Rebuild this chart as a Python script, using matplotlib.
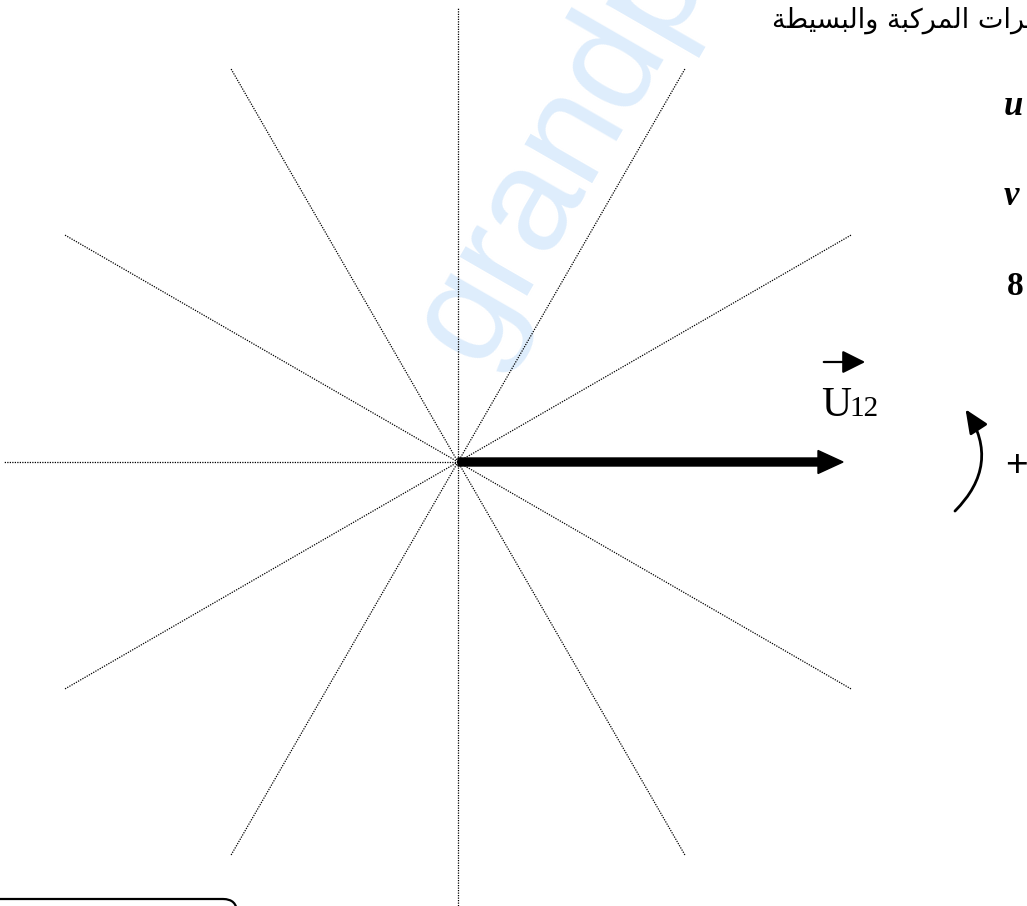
import numpy as np
import matplotlib
matplotlib.use('Agg')
import matplotlib.pyplot as plt
from matplotlib.patches import FancyArrowPatch, FancyBboxPatch

# reference directions of the phasor grid (degrees)
grid_angles = [30, 60, 90, 120, 150, 180, 210, 240, 270, 300, 330]

# phasors drawn on the grid
phasor_names = ['U']
phasor_subs = ['12']
phasor_mags = [385]
phasor_angles = [0]

title_text = 'التوترات المركبة والبسيطة'
side_labels = ['u', 'v', '8']

# presentation forms: isolated, final, initial, medial
FORMS = {
    'ا': ('\ufe8d', '\ufe8e', None, None),
    'ل': ('\ufedd', '\ufede', '\ufedf', '\ufee0'),
    'ت': ('\ufe95', '\ufe96', '\ufe97', '\ufe98'),
    'و': ('\ufeed', '\ufeee', None, None),
    'ر': ('\ufead', '\ufeae', None, None),
    'م': ('\ufee1', '\ufee2', '\ufee3', '\ufee4'),
    'ك': ('\ufed9', '\ufeda', '\ufedb', '\ufedc'),
    'ب': ('\ufe8f', '\ufe90', '\ufe91', '\ufe92'),
    'ة': ('\ufe93', '\ufe94', None, None),
    'س': ('\ufeb1', '\ufeb2', '\ufeb3', '\ufeb4'),
    'ي': ('\ufef1', '\ufef2', '\ufef3', '\ufef4'),
    'ط': ('\ufec1', '\ufec2', '\ufec3', '\ufec4'),
}


def shape_arabic(text):
    # tiny reshaper, matplotlib has no bidi / joining support
    out = []
    for i, ch in enumerate(text):
        if ch not in FORMS:
            out.append(ch)
            continue
        prev = text[i - 1] if i > 0 else ''
        nxt = text[i + 1] if i + 1 < len(text) else ''
        join_prev = prev in FORMS and FORMS[prev][2] is not None
        join_next = nxt in FORMS and FORMS[ch][2] is not None
        iso, fin, ini, med = FORMS[ch]
        if join_prev and join_next:
            out.append(med)
        elif join_prev:
            out.append(fin)
        elif join_next:
            out.append(ini)
        else:
            out.append(iso)
    return ''.join(out)[::-1]


W, H = 1027, 906
fig = plt.figure(figsize=(W / 100, H / 100), dpi=100)
ax = fig.add_axes([0, 0, 1, 1])
ax.set_xlim(0, W)
ax.set_ylim(H, 0)
ax.axis('off')

cx, cy = 458, 462
radius = 455

# watermark
ax.text(480, 368, 'grandp', rotation=60, rotation_mode='anchor',
        ha='left', va='baseline', fontsize=105, color='#deedfc',
        family='Liberation Sans', zorder=0)

# dotted grid
for a in grid_angles:
    t = np.deg2rad(a)
    ax.plot([cx, cx + radius * np.cos(t)], [cy, cy - radius * np.sin(t)],
            color='black', lw=0.9, linestyle=(0, (1, 1)), zorder=1)

# phasors
for name, sub, mag, ang in zip(phasor_names, phasor_subs, phasor_mags, phasor_angles):
    t = np.deg2rad(ang)
    ax.arrow(cx, cy, mag * np.cos(t), -mag * np.sin(t), width=8,
             head_width=23, head_length=25, length_includes_head=True,
             color='black', zorder=3)
    lx, ly = cx + mag * np.cos(t) - 22, cy - mag * np.sin(t) - 46
    ax.text(lx, ly, name, ha='left', va='baseline', fontsize=30,
            family='Liberation Serif')
    ax.text(lx + 28, ly, sub, ha='left', va='baseline', fontsize=21,
            family='Liberation Serif')
    ax.add_patch(FancyArrowPatch((lx, ly - 54), (lx + 47, ly - 54),
                                 arrowstyle='-|>,head_length=0.7,head_width=0.35',
                                 mutation_scale=20, lw=1.6, color='black'))

# direction of rotation
ax.add_patch(FancyArrowPatch((953, 513), (964, 407),
                             connectionstyle='arc3,rad=0.42',
                             arrowstyle='-|>,head_length=0.8,head_width=0.35',
                             mutation_scale=18, lw=2, color='black'))
ax.text(1005, 466, '+', ha='left', va='center', fontsize=28,
        family='Liberation Sans')

# header text (cut at the right edge) and cut-off labels on the right
ax.text(772, 28, shape_arabic(title_text), ha='left', va='baseline',
        fontsize=19.5, family='DejaVu Sans')
for lab, x, y, fs in zip(side_labels, [1004, 1004, 1007], [115, 205, 295], [25, 25, 24]):
    style = 'normal' if lab.isdigit() else 'italic'
    ax.text(x, y, lab, ha='left', va='baseline', fontsize=fs,
            fontweight='bold', fontstyle=style, family='Liberation Serif')

# box at the bottom left
ax.add_patch(FancyBboxPatch((-30, 899), 267, 80,
                            boxstyle='round,pad=0,rounding_size=14',
                            fill=False, lw=1.6, ec='black'))

fig.savefig('out.png', dpi=100)
